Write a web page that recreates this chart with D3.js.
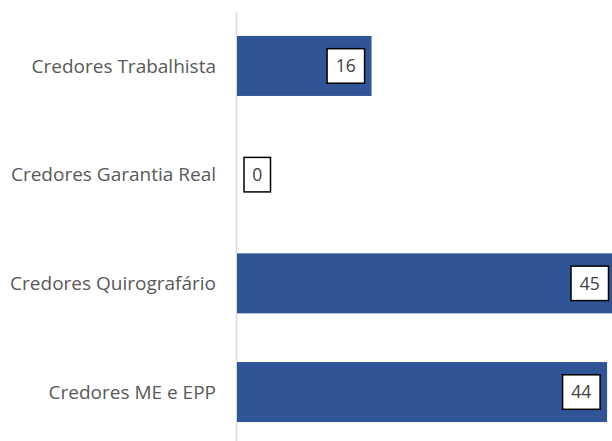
<!DOCTYPE html>
<html>
<head>
<meta charset="utf-8">
<script src="https://cdn.jsdelivr.net/npm/d3@7"></script>
<style>
  body { margin: 0; background: #fff; }
  svg { display: block; }
</style>
</head>
<body>
<svg width="612" height="441"></svg>
<script>
var categories = ["Credores Trabalhista", "Credores Garantia Real", "Credores Quirografário", "Credores ME e EPP"];
var values = [16, 0, 45, 44];

var width = 612, height = 441;
var svg = d3.select('svg');

var x = d3.scaleLinear().domain([0, 45]).range([237, 615.5]);
var y = d3.scaleBand()
            .domain(categories)
            .range([11.6, 446.4])
            .paddingInner(0.448)
            .paddingOuter(0.224);

var fontFamily = "'Open Sans', sans-serif";

// axis line
svg.append('line')
    .attr('x1', x(0) - 0.5).attr('x2', x(0) - 0.5)
    .attr('y1', 12).attr('y2', height)
    .attr('stroke', '#d9d9d9')
    .attr('stroke-width', 1.5);

// category labels
svg.append('g')
    .selectAll('text')
    .data(categories)
    .enter()
    .append('text')
        .attr('x', 216)
        .attr('y', function(d){ return y(d) + y.bandwidth()/2 })
        .attr('dy', '0.35em')
        .style('text-anchor', 'end')
        .style('font-family', fontFamily)
        .style('font-size', '19px')
        .attr('fill', '#595959')
        .text(function(d){ return d });

// bars
svg.append('g')
    .selectAll('rect')
    .data(values)
    .enter()
    .append('rect')
        .attr('x', x(0))
        .attr('y', function(d, i){ return y(categories[i]) })
        .attr('width', function(d){ return x(d) - x(0) })
        .attr('height', y.bandwidth())
        .attr('fill', '#2f5597');

// value labels with boxes
var labels = svg.append('g')
    .selectAll('g')
    .data(values)
    .enter()
    .append('g');

labels.each(function(d, i){
    var g = d3.select(this);
    var txt = String(d);
    var boxW = txt.length > 1 ? 37.5 : 26.5;
    var boxH = 34.5;
    var cy = y(categories[i]) + y.bandwidth()/2;
    var bx = d > 0 ? x(d) - 7 - boxW : x(0) + 7;
    g.append('rect')
        .attr('x', bx)
        .attr('y', cy - boxH/2)
        .attr('width', boxW)
        .attr('height', boxH)
        .attr('fill', 'white')
        .attr('stroke', 'black')
        .attr('stroke-width', 1.5);
    g.append('text')
        .attr('x', bx + boxW/2)
        .attr('y', cy)
        .attr('dy', '0.36em')
        .style('text-anchor', 'middle')
        .style('font-family', fontFamily)
        .style('font-size', '17.5px')
        .attr('fill', '#404040')
        .text(txt);
});
</script>
</body>
</html>
